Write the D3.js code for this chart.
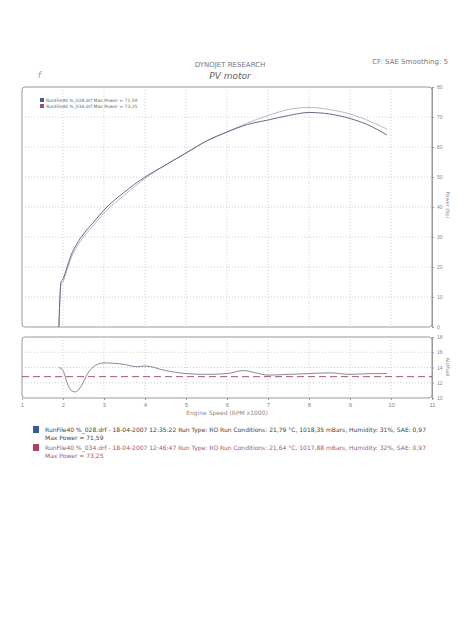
<!DOCTYPE html><html><head><meta charset="utf-8"><script src="https://cdn.jsdelivr.net/npm/d3@7"></script>
<style>body{margin:0;background:#fff;font-family:"DejaVu Sans",sans-serif}</style></head><body><svg id="c" width="468" height="644"></svg><script>
const rpmBlue=[1.9,1.95,2.0,2.1,2.2,2.35,2.5,2.75,3.0,3.5,4.0,4.5,5.0,5.5,6.0,6.5,7.0,7.5,8.0,8.5,9.0,9.5,9.9];
const powBlue=[0,15,16,20,24,28,31,35,39,45,50,54,58,62,65,67.5,69,70.5,71.5,71,69.5,67,64];
const rpmPink=[1.9,1.95,2.0,2.1,2.2,2.35,2.5,2.75,3.0,3.5,4.0,4.5,5.0,5.5,6.0,6.5,7.0,7.5,8.0,8.5,9.0,9.5,9.9];
const powPink=[0,14,15,19,23,27,30,34,38,44,49.5,54,58,62,65,68,70.5,72.5,73.2,72.5,71,68.5,66];
const rpmAfr=[1.9,2.0,2.1,2.2,2.3,2.45,2.6,2.8,3.0,3.5,3.8,4.0,4.5,5.0,5.5,6.0,6.4,6.7,7.0,7.5,8.0,8.5,9.0,9.5,9.9];
const afrBlue=[14.0,13.6,12.0,11.0,10.8,11.6,13.2,14.3,14.6,14.4,14.1,14.2,13.6,13.2,13.1,13.2,13.6,13.3,13.0,13.1,13.2,13.3,13.1,13.2,13.2];
const afrRef=[12.8,12.8];
const xTicks=[1,2,3,4,5,6,7,8,9,10,11];
const pTicks=[0,10,20,30,40,50,60,70,80];
const aTicks=[10,12,14,16,18];
const svg=d3.select("#c");
const x=d3.scaleLinear().domain([1,11]).range([22,432]);
const yP=d3.scaleLinear().domain([0,80]).range([327,87]);
const yA=d3.scaleLinear().domain([10,18]).range([398,337]);
const g="#bbb";
svg.append("text").attr("x",230).attr("y",67).attr("text-anchor","middle").attr("font-size",7).attr("fill","#777").text("DYNOJET RESEARCH");
svg.append("text").attr("x",230).attr("y",79).attr("text-anchor","middle").attr("font-size",9).attr("font-style","italic").attr("fill","#666").text("PV motor");
svg.append("text").attr("x",448).attr("y",64).attr("text-anchor","end").attr("font-size",7).attr("fill","#777").text("CF: SAE  Smoothing: 5");
svg.append("text").attr("x",38).attr("y",78).attr("font-size",8).attr("font-style","italic").attr("fill","#999").text("f");
function panel(y,ticks){
 const top=y.range()[1],bot=y.range()[0];
 svg.append("rect").attr("x",22).attr("y",top).attr("width",410).attr("height",bot-top).attr("fill","none").attr("stroke","#999").attr("rx",3);
 ticks.slice(1,-1).forEach(t=>svg.append("line").attr("x1",22).attr("x2",432).attr("y1",y(t)).attr("y2",y(t)).attr("stroke",g).attr("stroke-dasharray","1,2").attr("stroke-width",0.7));
 xTicks.slice(1,-1).forEach(t=>svg.append("line").attr("x1",x(t)).attr("x2",x(t)).attr("y1",top).attr("y2",bot).attr("stroke",g).attr("stroke-dasharray","1,2").attr("stroke-width",0.7));
 svg.append("g").attr("transform","translate(432,0)").call(d3.axisRight(y).tickValues(ticks).tickSize(2)).call(a=>{a.selectAll("text").attr("font-size",5).attr("fill","#888");a.selectAll("line,path").attr("stroke","#999");});
}
panel(yP,pTicks);panel(yA,aTicks);
svg.append("g").attr("transform","translate(0,398)").call(d3.axisBottom(x).tickValues(xTicks).tickSize(2).tickFormat(d3.format("d"))).call(a=>{a.selectAll("text").attr("font-size",6).attr("fill","#888");a.select("path").remove();a.selectAll("line").attr("stroke","#999");});
svg.append("text").attr("x",227).attr("y",415).attr("text-anchor","middle").attr("font-size",6).attr("fill","#888").text("Engine Speed (RPM x1000)");
svg.append("text").attr("transform","translate(446,205) rotate(90)").attr("text-anchor","middle").attr("font-size",5).attr("fill","#888").text("Power (hp)");
svg.append("text").attr("transform","translate(446,367) rotate(90)").attr("text-anchor","middle").attr("font-size",5).attr("fill","#888").text("Air/Fuel");
const lp=d3.line().x(d=>x(d[0])).y(d=>yP(d[1])).curve(d3.curveMonotoneX);
svg.append("path").attr("d",lp(rpmPink.map((r,i)=>[r,powPink[i]]))).attr("fill","none").attr("stroke","#b9a0b8").attr("stroke-width",0.8);
svg.append("path").attr("d",lp(rpmBlue.map((r,i)=>[r,powBlue[i]]))).attr("fill","none").attr("stroke","#555a7a").attr("stroke-width",0.9);
const la=d3.line().x(d=>x(d[0])).y(d=>yA(d[1])).curve(d3.curveMonotoneX);
svg.append("path").attr("d",la([[1,afrRef[0]],[11,afrRef[1]]])).attr("stroke","#a04060").attr("stroke-dasharray","7,4").attr("stroke-width",0.9);
svg.append("path").attr("d",la(rpmAfr.map((r,i)=>[r,afrBlue[i]]))).attr("fill","none").attr("stroke","#666a80").attr("stroke-width",0.8);
[["#4a5aa0","RunFile40 %_028.drf Max Power = 71,59"],["#a05070","RunFile40 %_034.drf Max Power = 73,25"]].forEach((d,i)=>{
 svg.append("rect").attr("x",40).attr("y",98+i*6).attr("width",4).attr("height",4).attr("fill",d[0]);
 svg.append("text").attr("x",46).attr("y",102+i*6).attr("font-size",4.5).attr("fill","#666").text(d[1]);});
const foot=[["#3a5c9a","#444","RunFile40 %_028.drf - 18-04-2007 12:35:22  Run Type: RO  Run Conditions: 21,79 °C, 1018,35 mBars,  Humidity:  31%, SAE: 0,97","Max Power = 71,59"],
["#b04060","#a05a78","RunFile40 %_034.drf - 18-04-2007 12:46:47  Run Type: RO  Run Conditions: 21,64 °C, 1017,88 mBars,  Humidity:  32%, SAE: 0,97","Max Power = 73,25"]];
foot.forEach((d,i)=>{const y0=432+i*18;
 svg.append("rect").attr("x",33).attr("y",y0-6).attr("width",6).attr("height",7).attr("fill",d[0]);
 svg.append("text").attr("x",45).attr("y",y0).attr("font-size",6).attr("fill",d[1]).text(d[2]);
 svg.append("text").attr("x",45).attr("y",y0+8).attr("font-size",6).attr("fill",d[1]).text(d[3]);});
</script></body></html>
